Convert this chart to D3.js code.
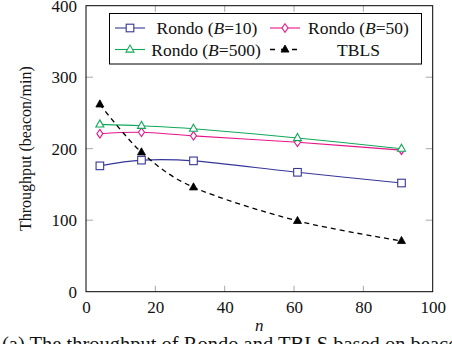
<!DOCTYPE html>
<html>
<head>
<meta charset="utf-8">
<script src="https://cdn.jsdelivr.net/npm/d3@7/dist/d3.min.js"></script>
<style>
  html, body { margin: 0; padding: 0; background: #fff; }
  svg { display: block; }
</style>
</head>
<body>
<svg id="chart" width="452" height="344"></svg>
<script>
// ---- data ----
const nValues = [4, 16, 31, 61, 91];
const rondo10 = [176, 184, 183, 167, 152];
const rondo50 = [221, 223, 218, 209, 198];
const rondo500 = [234, 232, 228, 215, 200];
const tbls = [262, 195, 146, 99, 71];
const xTicks = [0, 20, 40, 60, 80, 100];
const yTicks = [0, 100, 200, 300, 400];
const seriesNames = ["Rondo (B=10)", "Rondo (B=50)", "Rondo (B=500)", "TBLS"];

(function () {
const FONT = "'Liberation Serif', 'Times New Roman', Tinos, 'DejaVu Serif', serif";
const svg = d3.select("#chart");
const pL = 86, pR = 432.7, pT = 5.7, pB = 291.7;
const x = d3.scaleLinear().domain([0, 100]).range([pL, pR]);
const y = d3.scaleLinear().domain([0, 400]).range([pB, pT]);

const tickGray = "#a8a8a8";
const inner = xTicks.filter(d => d > 0 && d < 100);
const innerY = yTicks.filter(d => d > 0 && d < 400);
const tickG = svg.append("g").attr("stroke", tickGray).attr("stroke-width", 1);
inner.forEach(d => {
  tickG.append("line").attr("x1", x(d)).attr("x2", x(d)).attr("y1", pB).attr("y2", pB - 6);
  tickG.append("line").attr("x1", x(d)).attr("x2", x(d)).attr("y1", pT).attr("y2", pT + 6);
});
innerY.forEach(d => {
  tickG.append("line").attr("x1", pL).attr("x2", pL + 7).attr("y1", y(d)).attr("y2", y(d));
  tickG.append("line").attr("x1", pR).attr("x2", pR - 7).attr("y1", y(d)).attr("y2", y(d));
});

svg.append("rect").attr("x", pL).attr("y", pT).attr("width", pR - pL).attr("height", pB - pT)
  .attr("fill", "none").attr("stroke", "#000").attr("stroke-width", 1);

const xAxis = svg.append("g").attr("transform", `translate(0,${pB})`)
  .call(d3.axisBottom(x).tickValues(xTicks).tickSize(0).tickPadding(9).tickFormat(d3.format("d")));
xAxis.select(".domain").remove();
xAxis.selectAll("text").style("font-size", "17px").style("font-family", FONT).attr("fill", "#111");

const yAxis = svg.append("g").attr("transform", `translate(${pL},0)`)
  .call(d3.axisLeft(y).tickValues(yTicks).tickSize(0).tickPadding(9).tickFormat(d3.format("d")));
yAxis.select(".domain").remove();
yAxis.selectAll("text").style("font-size", "17px").style("font-family", FONT).attr("fill", "#111");

svg.append("text").attr("x", (pL + pR) / 2).attr("y", 331).attr("text-anchor", "middle")
  .style("font-family", FONT).style("font-size", "17px").style("font-style", "italic").attr("fill", "#111").text("n");
svg.append("text").attr("transform", `translate(31,${(pT + pB) / 2}) rotate(-90)`)
  .attr("text-anchor", "middle").style("font-family", FONT).style("font-size", "16px").attr("fill", "#111")
  .text("Throughput (beacon/min)");

svg.append("text").attr("x", 2).attr("y", 351).style("font-family", FONT).style("font-size", "20.5px").attr("fill", "#111")
  .text("(a) The throughput of Rondo and TBLS based on beacon");

const colors = ["#36379a", "#e6168a", "#11a85a", "#000"];
const seriesData = [rondo10, rondo50, rondo500, tbls];
const line = d3.line().x(d => x(d[0])).y(d => y(d[1])).curve(d3.curveCardinal.tension(0.1));

function drawMarker(g, kind, cx, cy, color) {
  if (kind === 0) {
    g.append("rect").attr("x", cx - 3.8).attr("y", cy - 3.8).attr("width", 7.6).attr("height", 7.6)
      .attr("fill", "#fff").attr("stroke", color).attr("stroke-width", 1.1);
  } else if (kind === 1) {
    g.append("path").attr("d", `M${cx},${cy - 4.3}L${cx + 3},${cy}L${cx},${cy + 4.3}L${cx - 3},${cy}Z`)
      .attr("fill", "#fff").attr("stroke", color).attr("stroke-width", 1.1);
  } else if (kind === 2) {
    g.append("path").attr("d", `M${cx},${cy - 4.5}L${cx + 4},${cy + 2.6}L${cx - 4},${cy + 2.6}Z`)
      .attr("fill", "#fff").attr("stroke", color).attr("stroke-width", 1.1);
  } else {
    g.append("path").attr("d", `M${cx},${cy - 4.5}L${cx + 4},${cy + 2.6}L${cx - 4},${cy + 2.6}Z`)
      .attr("fill", color).attr("stroke", color).attr("stroke-width", 0.8);
  }
}

seriesData.forEach((vals, i) => {
  const pts = nValues.map((n, j) => [n, vals[j]]);
  const g = svg.append("g");
  g.append("path").attr("d", line(pts)).attr("fill", "none").attr("stroke", colors[i])
    .attr("stroke-width", i === 3 ? 1.3 : 1.1)
    .attr("stroke-dasharray", i === 3 ? "5,4" : null);
  pts.forEach(p => drawMarker(g, i, x(p[0]), y(p[1]), colors[i]));
});

const lg = svg.append("g");
lg.append("rect").attr("x", 109.5).attr("y", 13.5).attr("width", 312).attr("height", 50.5)
  .attr("fill", "#fff").attr("stroke", "#000").attr("stroke-width", 1);
const legendPos = [
  { sx: 115, tx: 207, cy: 28 },
  { sx: 270, tx: 358.5, cy: 28 },
  { sx: 115, tx: 206, cy: 49.5 },
  { sx: 270, tx: 358.5, cy: 49.5 }
];
seriesNames.forEach((name, i) => {
  const p = legendPos[i];
  lg.append("line").attr("x1", p.sx).attr("x2", p.sx + 30).attr("y1", p.cy).attr("y2", p.cy)
    .attr("stroke", colors[i]).attr("stroke-width", i === 3 ? 1.3 : 1.1)
    .attr("stroke-dasharray", i === 3 ? "5,6" : null);
  drawMarker(lg, i, p.sx + 15, p.cy, colors[i]);
  const t = lg.append("text").attr("x", p.tx).attr("y", p.cy + 6).attr("text-anchor", "middle")
    .style("font-family", FONT).style("font-size", "17.5px").attr("fill", "#111");
  const m = name.match(/^(.*\()B(=.*)$/);
  if (m) {
    t.append("tspan").text(m[1]);
    t.append("tspan").style("font-style", "italic").text("B");
    t.append("tspan").text(m[2]);
  } else {
    t.text(name);
  }
});
})();
</script>
</body>
</html>
